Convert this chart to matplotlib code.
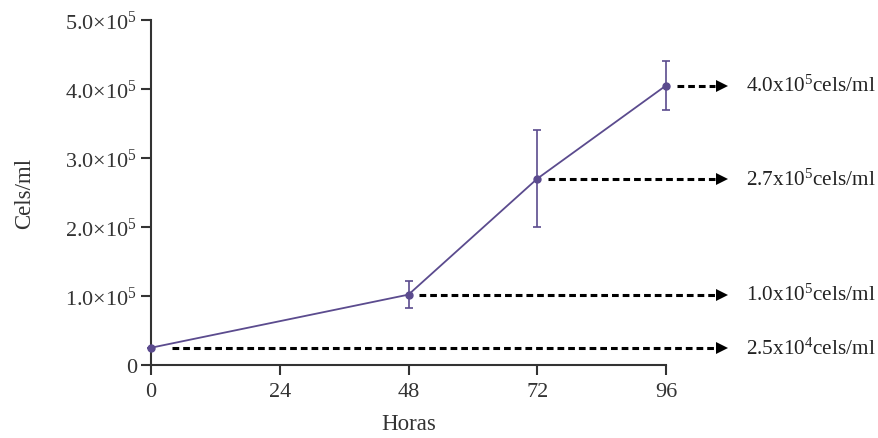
import matplotlib
matplotlib.use("Agg")
import matplotlib.pyplot as plt

hours = [0, 48, 72, 96]
cells = [2.5e4, 1.02e5, 2.7e5, 4.05e5]
errors = [0.0, 0.2e5, 0.7e5, 0.35e5]
labels = [r"2.5x10$^{4}$cels/ml", r"1.0x10$^{5}$cels/ml",
          r"2.7x10$^{5}$cels/ml", r"4.0x10$^{5}$cels/ml"]
yticks = [0, 1e5, 2e5, 3e5, 4e5, 5e5]
yticklabels = ["0"] + [r"%d.0$\times$10$^{5}$" % i for i in range(1, 6)]
xticks = [0, 24, 48, 72, 96]

plt.rcParams["font.family"] = ["Liberation Serif", "DejaVu Serif"]
plt.rcParams["mathtext.fontset"] = "custom"
plt.rcParams["mathtext.rm"] = "Liberation Serif"
plt.rcParams["mathtext.it"] = "Liberation Serif:italic"

fig = plt.figure(figsize=(8.79, 4.39), dpi=100)
ax = fig.add_axes([151/879, 73/439, 515/879, 345/439])

color = "#5b4b8e"
ax.errorbar(hours, cells, yerr=errors, color=color, lw=1.3, marker="o",
            ms=5, capsize=3, elinewidth=1.2, capthick=1.2, clip_on=False, zorder=3)

arrow_end = 106.4
text_x = 111.0
for h, c, lab in zip(hours, cells, labels):
    start = h + (4.0 if h == 0 else 2.0)
    ax.plot([start, arrow_end - 1.2], [c, c], ls=(0, (2.2, 1.3)), color="black",
            lw=2.2, clip_on=False, zorder=2)
    ax.plot([arrow_end], [c], marker=">", color="black", ms=8, clip_on=False,
            zorder=2, markeredgewidth=0)
    ax.text(text_x, c, lab, fontsize=15.3, va="center", ha="left", color="#222222")

ax.set_xlim(0, 96)
ax.set_ylim(0, 5e5)
ax.set_xticks(xticks)
ax.set_yticks(yticks)
ax.set_yticklabels(yticklabels)
for s in ["top", "right"]:
    ax.spines[s].set_visible(False)
for s in ["left", "bottom"]:
    ax.spines[s].set_linewidth(1.5)
    ax.spines[s].set_color("#333333")
ax.tick_params(axis="both", direction="out", length=7, width=1.5, colors="#333333",
               labelsize=16, labelcolor="#333333")
ax.tick_params(axis="x", pad=5)
ax.tick_params(axis="y", pad=3)
ax.set_xlabel("Horas", fontsize=16.5, color="#333333")
ax.set_ylabel("Cels/ml", fontsize=16.5, color="#333333")
ax.xaxis.set_label_coords(0.5, -0.14)
ax.yaxis.set_label_coords(-0.225, 0.5)

fig.savefig("out.png", dpi=100)
